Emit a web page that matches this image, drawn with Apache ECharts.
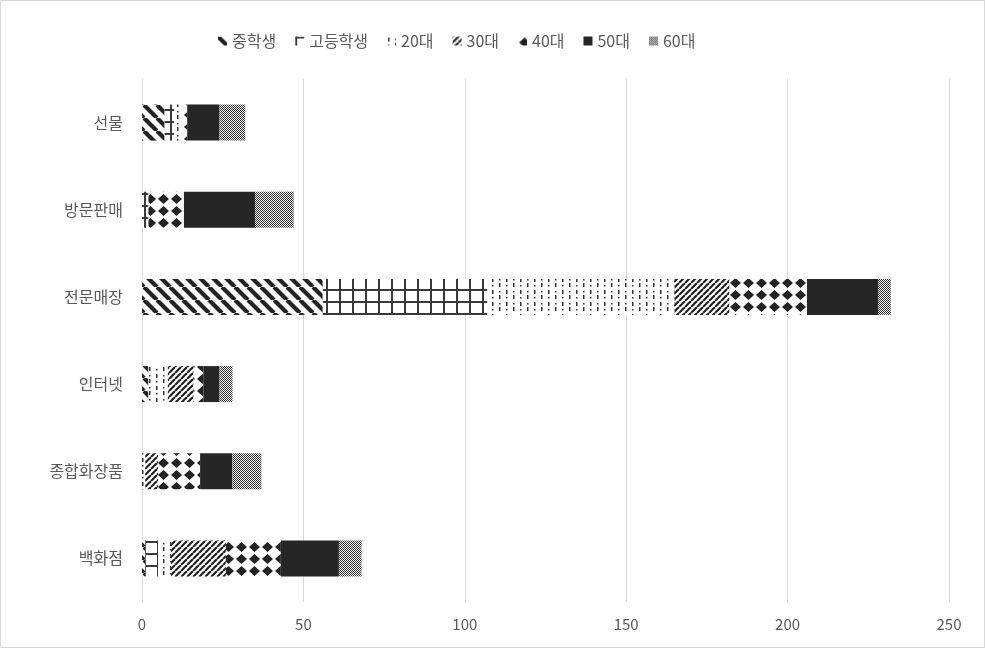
<!DOCTYPE html>
<html><head><meta charset="utf-8">
<script src="https://cdn.jsdelivr.net/npm/echarts@6/dist/echarts.min.js"></script>
<style>
html,body{margin:0;padding:0;background:#fff;}
#c{width:983px;height:646px;border:1px solid #d9d9d9;}
</style></head>
<body><div id="c"></div>
<script>
// categories bottom -> top
const categories = ['백화점','종합화장품','인터넷','전문매장','방문판매','선물'];
const seriesNames = ['중학생','고등학생','20대','30대','40대','50대','60대'];
const middle  = [1, 0, 2, 56, 0, 7];
const high    = [4, 0, 0, 51, 2, 3];
const age20   = [4, 1, 6, 58, 0, 3];
const age30   = [17, 4, 8, 17, 0, 0];
const age40   = [17, 13, 3, 24, 11, 1];
const age50   = [18, 10, 5, 22, 22, 10];
const age60   = [7, 9, 4, 4, 12, 8];
const xTicks = [0, 50, 100, 150, 200, 250];

function pat(w, h, draw) {
  const c = document.createElement('canvas');
  c.width = w; c.height = h;
  const ctx = c.getContext('2d');
  ctx.fillStyle = '#fff'; ctx.fillRect(0, 0, w, h);
  draw(ctx, w, h);
  return { image: c, repeat: 'repeat' };
}
const pMiddle = pat(13, 13, (ctx, w) => {
  ctx.strokeStyle = '#222'; ctx.lineWidth = 4.2;
  for (const o of [-w, 0, w]) { ctx.beginPath(); ctx.moveTo(o, 0); ctx.lineTo(o + w, w); ctx.stroke(); }
});
const pHigh = pat(13, 12, (ctx) => {
  ctx.fillStyle = '#3a3a3a';
  ctx.fillRect(0, 0, 2, 12);
  ctx.fillRect(0, 0, 13, 2);
});
const p20 = pat(14, 12, (ctx) => {
  ctx.fillStyle = '#333';
  ctx.fillRect(1, 1, 1.5, 4); ctx.fillRect(1, 8, 1.5, 1.5);
  ctx.fillRect(8, 2, 1.5, 1.5); ctx.fillRect(8, 6, 1.5, 4);
});
const p30 = pat(6, 6, (ctx, w) => {
  ctx.strokeStyle = '#222'; ctx.lineWidth = 2.2;
  for (const o of [-w, 0, w]) { ctx.beginPath(); ctx.moveTo(o, w); ctx.lineTo(o + w, 0); ctx.stroke(); }
});
const p40 = pat(13, 12, (ctx) => {
  ctx.fillStyle = '#222';
  ctx.beginPath(); ctx.moveTo(6.5, 1); ctx.lineTo(12, 6); ctx.lineTo(6.5, 11); ctx.lineTo(1, 6); ctx.closePath(); ctx.fill();
});
const p50 = '#262626';
const p60 = pat(4, 4, (ctx) => {
  ctx.fillStyle = '#2a2a2a';
  for (let y = 0; y < 4; y++) for (let x = 0; x < 4; x++) if ((x + y) % 2 === 0) ctx.fillRect(x, y, 1, 1);
});

const dataSets = [middle, high, age20, age30, age40, age50, age60];
const fills = [pMiddle, pHigh, p20, p30, p40, p50, p60];

const chart = echarts.init(document.getElementById('c'));
chart.setOption({
  animation: false,
  backgroundColor: '#fff',
  textStyle: { fontFamily: '"Noto Sans CJK KR", "Noto Sans", sans-serif' },
  legend: {
    top: 27, left: 212,
    icon: 'rect', itemWidth: 9, itemHeight: 9, itemGap: 19,
    textStyle: { color: '#595959', fontSize: 16 },
    data: seriesNames
  },
  grid: { left: 141, right: 35, top: 78, bottom: 45, containLabel: false },
  xAxis: {
    type: 'value', min: 0, max: 250, interval: 50,
    axisLine: { show: false }, axisTick: { show: false },
    axisLabel: { color: '#595959', fontSize: 15, margin: 15,
      formatter: v => xTicks.includes(v) ? String(v) : '' },
    splitLine: { lineStyle: { color: '#d9d9d9', width: 1 } }
  },
  yAxis: {
    type: 'category', data: categories,
    axisLine: { show: false }, axisTick: { show: false },
    axisLabel: { color: '#595959', fontSize: 16, margin: 19 }
  },
  series: seriesNames.map((n, i) => ({
    name: n, type: 'bar', stack: 'total', barWidth: 36,
    itemStyle: { color: fills[i] },
    data: dataSets[i]
  }))
});
</script></body></html>
